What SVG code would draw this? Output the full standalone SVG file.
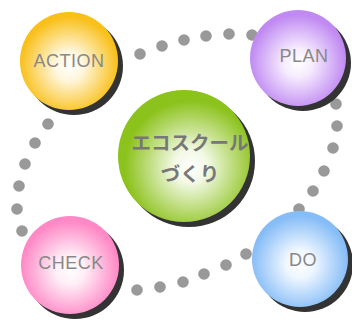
<svg xmlns="http://www.w3.org/2000/svg" width="352" height="320" viewBox="0 0 352 320">
  <defs>
    <radialGradient id="g-yellow" cx="0.5" cy="0.55" r="0.5">
      <stop offset="0" stop-color="#ffffff"/>
      <stop offset="0.3" stop-color="#fff6dc"/>
      <stop offset="1" stop-color="#f9c01a"/>
    </radialGradient>
    <radialGradient id="g-purple" cx="0.5" cy="0.55" r="0.5">
      <stop offset="0" stop-color="#ffffff"/>
      <stop offset="0.3" stop-color="#f6ecfe"/>
      <stop offset="1" stop-color="#c08af2"/>
    </radialGradient>
    <radialGradient id="g-pink" cx="0.5" cy="0.55" r="0.5">
      <stop offset="0" stop-color="#ffffff"/>
      <stop offset="0.3" stop-color="#ffeef7"/>
      <stop offset="1" stop-color="#ff88c6"/>
    </radialGradient>
    <radialGradient id="g-blue" cx="0.5" cy="0.55" r="0.5">
      <stop offset="0" stop-color="#ffffff"/>
      <stop offset="0.3" stop-color="#eef6ff"/>
      <stop offset="1" stop-color="#86bdf7"/>
    </radialGradient>
    <radialGradient id="g-green" cx="0.55" cy="0.58" r="0.5">
      <stop offset="0" stop-color="#ffffff"/>
      <stop offset="0.25" stop-color="#f3f9e6"/>
      <stop offset="1" stop-color="#8cc21c"/>
    </radialGradient>
  </defs>
  <style>
    .dot { fill: #999999; }
    .shadow { fill: #333333; }
    .label { font-family: "Liberation Sans", Arial, sans-serif; font-size: 18px; fill: #888888; text-anchor: middle; letter-spacing: 0.5px; }
    .title { font-family: "Noto Sans CJK JP", "Noto Sans", sans-serif; font-size: 19.5px; font-weight: bold; fill: #777777; text-anchor: middle; }
  </style>

  <!-- dotted cycle between the four stages -->
  <g id="connectors">
    <circle class="dot" cx="140" cy="54" r="5.8"/>
    <circle class="dot" cx="162" cy="46" r="5.8"/>
    <circle class="dot" cx="184" cy="40" r="5.8"/>
    <circle class="dot" cx="206" cy="36" r="5.8"/>
    <circle class="dot" cx="229" cy="34" r="5.8"/>
    <circle class="dot" cx="252" cy="35" r="5.8"/>

    <circle class="dot" cx="336" cy="104" r="5.8"/>
    <circle class="dot" cx="337" cy="126" r="5.8"/>
    <circle class="dot" cx="333" cy="148" r="5.8"/>
    <circle class="dot" cx="324" cy="171" r="5.8"/>
    <circle class="dot" cx="313" cy="191" r="5.8"/>
    <circle class="dot" cx="299" cy="209" r="5.8"/>

    <circle class="dot" cx="246" cy="254" r="5.8"/>
    <circle class="dot" cx="226" cy="265" r="5.8"/>
    <circle class="dot" cx="204" cy="274" r="5.8"/>
    <circle class="dot" cx="183" cy="282" r="5.8"/>
    <circle class="dot" cx="160" cy="287" r="5.8"/>
    <circle class="dot" cx="137" cy="290" r="5.8"/>

    <circle class="dot" cx="22" cy="231" r="5.8"/>
    <circle class="dot" cx="17" cy="209" r="5.8"/>
    <circle class="dot" cx="19" cy="186" r="5.8"/>
    <circle class="dot" cx="25" cy="164" r="5.8"/>
    <circle class="dot" cx="35" cy="143" r="5.8"/>
    <circle class="dot" cx="48" cy="124" r="5.8"/>
  </g>

  <g id="action">
    <circle class="shadow" cx="74" cy="66" r="49"/>
    <circle cx="69" cy="61" r="49" fill="url(#g-yellow)"/>
    <text class="label" x="69" y="67">ACTION</text>
  </g>

  <g id="plan">
    <circle class="shadow" cx="303" cy="63" r="48"/>
    <circle cx="298" cy="58" r="48" fill="url(#g-purple)"/>
    <text class="label" x="304" y="62">PLAN</text>
  </g>

  <g id="check">
    <circle class="shadow" cx="75" cy="270" r="49"/>
    <circle cx="70" cy="265" r="49" fill="url(#g-pink)"/>
    <text class="label" x="71" y="269">CHECK</text>
  </g>

  <g id="do">
    <circle class="shadow" cx="305" cy="264" r="48"/>
    <circle cx="300" cy="259" r="48" fill="url(#g-blue)"/>
    <text class="label" x="303" y="266">DO</text>
  </g>

  <g id="eco-school">
    <circle class="shadow" cx="189" cy="161" r="66"/>
    <circle cx="184" cy="156" r="66" fill="url(#g-green)"/>
    <text class="title" x="190" y="150">エコスクール</text>
    <text class="title" x="190" y="181">づくり</text>
  </g>
</svg>
